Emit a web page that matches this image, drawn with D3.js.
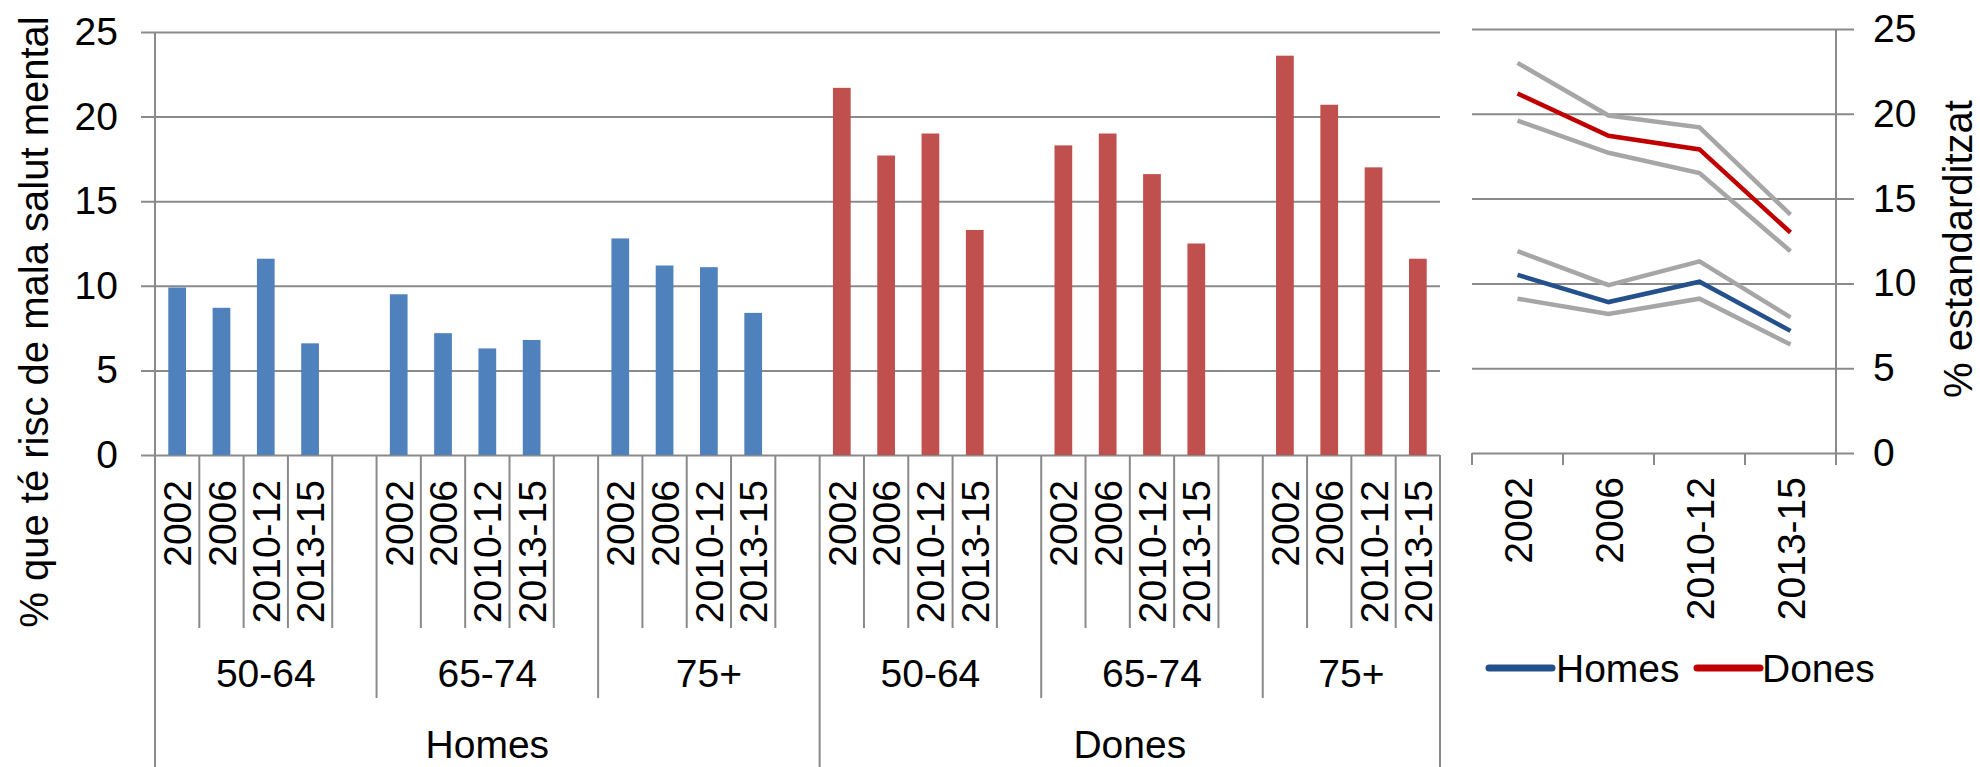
<!DOCTYPE html>
<html>
<head>
<meta charset="utf-8">
<script src="https://cdn.jsdelivr.net/npm/d3@7"></script>
<style>
    body { margin: 0; background: #ffffff; }
    text { font-family: "Liberation Sans", Arial, sans-serif; fill: #000000; }
</style>
</head>
<body>
<script>

// data
var years = ["2002", "2006", "2010-12", "2013-15"];
var ageGroups = ["50-64", "65-74", "75+"];
var sexes = ["Homes", "Dones"];

// % que té risc de mala salut mental, one row per age group
var homesBars = [
    [9.9, 8.7, 11.6, 6.6],
    [9.5, 7.2, 6.3, 6.8],
    [12.8, 11.2, 11.1, 8.4]
];
var donesBars = [
    [21.7, 17.7, 19.0, 13.3],
    [18.3, 19.0, 16.6, 12.5],
    [23.6, 20.7, 17.0, 11.6]
];

// % estandarditzat with lower / upper interval
var homesStd  = [10.5, 8.9, 10.1, 7.2];
var homesLow  = [9.1, 8.2, 9.1, 6.4];
var homesHigh = [11.9, 9.9, 11.3, 8.0];
var donesStd  = [21.2, 18.7, 17.9, 13.0];
var donesLow  = [19.6, 17.7, 16.5, 11.9];
var donesHigh = [23.0, 19.9, 19.2, 14.05];

var yTicks = [0, 5, 10, 15, 20, 25];

var barColors = {"Homes": "#4f81bd", "Dones": "#c0504d"};
var lineColors = {"Homes": "#24508c", "Dones": "#c00000"};
var gridColor = "#8a8a8a";
var fontSize = 39;
var titleSize = 40;

var svg = d3.select("body").append("svg")
    .attr("width", 1980)
    .attr("height", 767);

/** drawBarPanel()
 left panel: grouped bars with a 3 level category axis
 */
function drawBarPanel(){
    var x0 = 155, x1 = 1440, yTop = 32, yBase = 455;

    // slots: 4 years + one empty slot after each age group (not after the last one)
    var slots = [];
    var bars = [];
    sexes.forEach(function(sex, si){
        var rows = si === 0 ? homesBars : donesBars;
        ageGroups.forEach(function(age, ai){
            years.forEach(function(yr, yi){
                var key = sex + "|" + age + "|" + yr;
                slots.push(key);
                bars.push({key: key, sex: sex, year: yr, value: rows[ai][yi]});
            });
            if(!(si === 1 && ai === 2)){
                slots.push(sex + "|" + age + "|blank");
            }
        });
    });

    var x = d3.scaleBand().domain(slots).range([x0, x1]);
    var step = x.step();
    var y = d3.scaleLinear().domain([0, 25]).range([yBase, yTop]);

    // gridlines and tick labels
    var yAxis = svg.append("g")
        .attr("transform", "translate(141,0)")
        .call(d3.axisLeft(y).tickValues(yTicks).tickSize(-(x1 - 141)).tickPadding(23));
    yAxis.select(".domain").remove();
    yAxis.selectAll(".tick line").attr("stroke", gridColor).attr("stroke-width", 2);
    yAxis.selectAll(".tick text")
        .style("font-size", fontSize + "px")
        .style("font-family", "'Liberation Sans', Arial, sans-serif")
        .attr("fill", "#000");

    // bars
    svg.append("g").selectAll("rect")
        .data(bars)
        .enter().append("rect")
        .attr("x", function(d){ return x(d.key) + step * 0.3; })
        .attr("width", step * 0.4)
        .attr("y", function(d){ return y(d.value); })
        .attr("height", function(d){ return y(0) - y(d.value); })
        .attr("fill", function(d){ return barColors[d.sex]; });

    // vertical axis line (continues down as the outer category border)
    svg.append("line")
        .attr("x1", x0).attr("x2", x0)
        .attr("y1", yTop).attr("y2", 767)
        .attr("stroke", gridColor).attr("stroke-width", 2);

    // category separators: short for years, longer for age groups, full for sexes
    var sepShort = 628, sepAge = 698, sepSex = 767;
    slots.forEach(function(s, i){
        if(i === 0) return;
        var parts = s.split("|");
        var prev = slots[i - 1].split("|");
        var yEnd = sepShort;
        if(parts[0] !== prev[0]) yEnd = sepSex;
        else if(parts[1] !== prev[1]) yEnd = sepAge;
        svg.append("line")
            .attr("x1", x(s)).attr("x2", x(s))
            .attr("y1", yBase).attr("y2", yEnd)
            .attr("stroke", gridColor).attr("stroke-width", 2);
    });
    svg.append("line")
        .attr("x1", x1).attr("x2", x1)
        .attr("y1", yBase).attr("y2", sepSex)
        .attr("stroke", gridColor).attr("stroke-width", 2);

    // year labels, rotated
    svg.append("g").selectAll("text")
        .data(bars)
        .enter().append("text")
        .attr("transform", function(d){
            return "translate(" + (x(d.key) + step / 2) + ",480) rotate(-90)";
        })
        .attr("dy", "0.36em")
        .attr("text-anchor", "end")
        .style("font-size", fontSize + "px")
        .text(function(d){ return d.year; });

    // age group and sex labels
    sexes.forEach(function(sex){
        var sexSlots = slots.filter(function(s){ return s.split("|")[0] === sex; });
        ageGroups.forEach(function(age){
            var ageSlots = sexSlots.filter(function(s){ return s.split("|")[1] === age; });
            var cx = (x(ageSlots[0]) + x(ageSlots[ageSlots.length - 1]) + step) / 2;
            svg.append("text")
                .attr("x", cx).attr("y", 673)
                .attr("dy", "0.36em")
                .attr("text-anchor", "middle")
                .style("font-size", fontSize + "px")
                .text(age);
        });
        var sx = (x(sexSlots[0]) + x(sexSlots[sexSlots.length - 1]) + step) / 2;
        svg.append("text")
            .attr("x", sx).attr("y", 744)
            .attr("dy", "0.36em")
            .attr("text-anchor", "middle")
            .style("font-size", fontSize + "px")
            .text(sex);
    });

    // y title
    svg.append("text")
        .attr("transform", "translate(34,322) rotate(-90)")
        .attr("dy", "0.36em")
        .attr("text-anchor", "middle")
        .style("font-size", titleSize + "px")
        .text("% que té risc de mala salut mental");
}

/** drawLinePanel()
 right panel: standardised % with interval lines
 */
function drawLinePanel(){
    var x0 = 1472, x1 = 1836, yTop = 29, yBase = 453, gridEnd = 1854;

    var x = d3.scaleBand().domain(years).range([x0, x1]);
    var y = d3.scaleLinear().domain([0, 25]).range([yBase, yTop]);

    var yAxis = svg.append("g")
        .attr("transform", "translate(" + gridEnd + ",0)")
        .call(d3.axisRight(y).tickValues(yTicks).tickSize(-(gridEnd - x0)).tickPadding(19));
    yAxis.select(".domain").remove();
    yAxis.selectAll(".tick line").attr("stroke", gridColor).attr("stroke-width", 2);
    yAxis.selectAll(".tick text")
        .style("font-size", fontSize + "px")
        .style("font-family", "'Liberation Sans', Arial, sans-serif")
        .attr("fill", "#000");

    // right axis line
    svg.append("line")
        .attr("x1", x1).attr("x2", x1)
        .attr("y1", yTop).attr("y2", yBase + 12)
        .attr("stroke", gridColor).attr("stroke-width", 2);

    // category ticks under the 0 line
    var edges = years.map(function(d){ return x(d); }).concat([x1]);
    svg.append("g").selectAll("line")
        .data(edges)
        .enter().append("line")
        .attr("x1", function(d){ return d; }).attr("x2", function(d){ return d; })
        .attr("y1", yBase).attr("y2", yBase + 12)
        .attr("stroke", gridColor).attr("stroke-width", 2);

    var line = d3.line()
        .x(function(d, i){ return x(years[i]) + x.bandwidth() / 2; })
        .y(function(d){ return y(d); });

    var series = [
        {values: homesLow, color: "#a6a6a6"},
        {values: homesHigh, color: "#a6a6a6"},
        {values: donesLow, color: "#a6a6a6"},
        {values: donesHigh, color: "#a6a6a6"},
        {values: homesStd, color: lineColors["Homes"]},
        {values: donesStd, color: lineColors["Dones"]}
    ];
    svg.append("g").selectAll("path")
        .data(series)
        .enter().append("path")
        .attr("d", function(d){ return line(d.values); })
        .attr("fill", "none")
        .attr("stroke", function(d){ return d.color; })
        .attr("stroke-width", 4.5);

    // year labels
    svg.append("g").selectAll("text")
        .data(years)
        .enter().append("text")
        .attr("transform", function(d){
            return "translate(" + (x(d) + x.bandwidth() / 2) + ",477) rotate(-90)";
        })
        .attr("dy", "0.36em")
        .attr("text-anchor", "end")
        .style("font-size", fontSize + "px")
        .text(function(d){ return d; });

    // legend
    var legend = [
        {name: "Homes", color: lineColors["Homes"], lx: 1489, tx: 1556},
        {name: "Dones", color: lineColors["Dones"], lx: 1697, tx: 1762}
    ];
    legend.forEach(function(l){
        svg.append("line")
            .attr("x1", l.lx).attr("x2", l.lx + 63)
            .attr("y1", 668).attr("y2", 668)
            .attr("stroke", l.color).attr("stroke-width", 7)
            .attr("stroke-linecap", "round");
        svg.append("text")
            .attr("x", l.tx).attr("y", 668)
            .attr("dy", "0.36em")
            .style("font-size", fontSize + "px")
            .text(l.name);
    });

    // right title
    svg.append("text")
        .attr("transform", "translate(1958,249) rotate(-90)")
        .attr("dy", "0.36em")
        .attr("text-anchor", "middle")
        .style("font-size", titleSize + "px")
        .text("% estandarditzat");
}

drawBarPanel();
drawLinePanel();

</script>
</body>
</html>
